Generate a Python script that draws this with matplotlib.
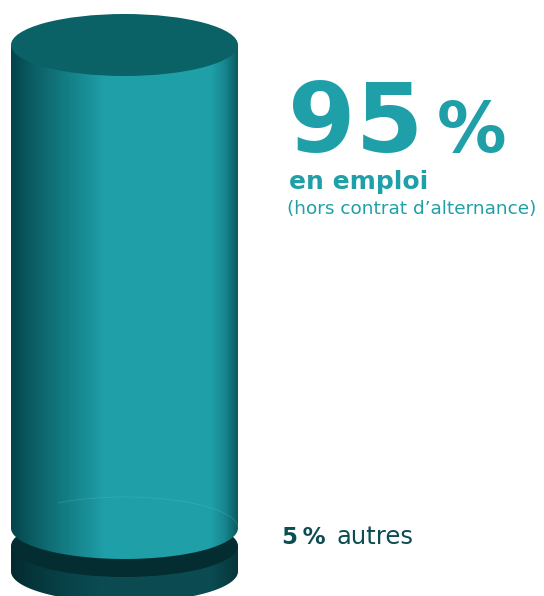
import numpy as np
import matplotlib
matplotlib.use("Agg")
import matplotlib.pyplot as plt
from matplotlib.patches import Ellipse, PathPatch
from matplotlib.path import Path
from matplotlib.colors import to_rgb

# data
shares = [95, 5]
share_labels = ['en emploi', 'autres']
note = "(hors contrat d\u2019alternance)"

teal = '#1fa0a8'
dark = '#0b4d52'

# cylinder layout (pixel units, y axis points down)
cx, rx, ry = 124.5, 113.5, 31
y_top = 45
px_per_pct = 5.084
gap = 18

side_stops = [
    # (x offset from left edge as fraction, color)
    [(0.0, '#03444a'), (0.08, '#0a5a60'), (0.2, '#11747b'), (0.38, '#1c98a1'),
     (0.41, '#1fa0a8'), (0.88, '#1fa0a8'), (0.94, '#178891'), (1.0, '#0c5a60')],
    [(0.0, '#032a2e'), (0.1, '#05363b'), (0.25, '#08434a'), (0.4, '#0b4b51'),
     (0.88, '#0b4b51'), (0.95, '#083f45'), (1.0, '#06343a')],
]
top_colors = ['#0a6166', '#042d31']


def side_gradient(stops, n=400):
    pos = np.array([s[0] for s in stops])
    cols = np.array([to_rgb(s[1]) for s in stops])
    xs = np.linspace(0, 1, n)
    img = np.stack([np.interp(xs, pos, cols[:, k]) for k in range(3)], axis=-1)
    return img[np.newaxis, :, :]


def draw_segment(ax, y0, y1, stops, top_color, z, back_edge=False):
    t = np.linspace(np.pi, 0, 200)
    verts = [(cx - rx, y0), (cx - rx, y1)]
    verts += list(zip(cx + rx * np.cos(t), y1 + ry * np.sin(t)))
    verts += [(cx + rx, y0), (cx - rx, y0)]
    codes = [Path.MOVETO] + [Path.LINETO] * (len(verts) - 2) + [Path.CLOSEPOLY]
    patch = PathPatch(Path(verts, codes), fc='none', ec='none', zorder=z)
    ax.add_patch(patch)
    im = ax.imshow(side_gradient(stops), extent=[cx - rx, cx + rx, y1 + ry, y0 - 1],
                   aspect='auto', interpolation='bilinear', zorder=z)
    im.set_clip_path(patch)
    if back_edge:
        tb = np.linspace(np.pi * 1.3, 2 * np.pi, 200)
        ax.plot(cx + rx * np.cos(tb), y1 + ry * np.sin(tb), color='#5cc3c9',
                lw=0.6, alpha=0.3, zorder=z + 0.1)
    ax.add_patch(Ellipse((cx, y0), 2 * rx, 2 * ry, fc=top_color, ec='none',
                         zorder=z + 0.2))


fig = plt.figure(figsize=(5.44, 5.96), dpi=100)
ax = fig.add_axes([0, 0, 1, 1])

# segment bounds from the shares
bounds = []
y = y_top
for s in shares:
    y0 = y
    y1 = y0 + s * px_per_pct
    bounds.append((y0, y1))
    y = y1 + gap

# lower segment first so the upper one overlaps it
for i in reversed(range(len(shares))):
    y0, y1 = bounds[i]
    z = 1 + (len(shares) - i)
    draw_segment(ax, y0, y1, side_stops[i], top_colors[i], z, back_edge=(i == 0))

ax.set_xlim(0, 544)
ax.set_ylim(596, 0)
ax.axis('off')

# labels
ax.text(288, 152, f'{shares[0]}', color=teal, fontsize=70, fontweight='bold',
        ha='left', va='baseline', zorder=10)
ax.text(437, 152, '%', color=teal, fontsize=50, fontweight='bold',
        ha='left', va='baseline', zorder=10)
ax.text(289, 189, share_labels[0], color=teal, fontsize=18, fontweight='bold',
        ha='left', va='baseline', zorder=10)
ax.text(287, 214, note, color=teal, fontsize=13.3, ha='left', va='baseline',
        zorder=10)

ax.text(282, 544, f'{shares[1]}\u2009%', color=dark, fontsize=16.5,
        fontweight='bold', ha='left', va='baseline', zorder=10)
ax.text(337, 544, share_labels[1], color=dark, fontsize=17.5,
        ha='left', va='baseline', zorder=10)

fig.savefig('out.png', dpi=100)
